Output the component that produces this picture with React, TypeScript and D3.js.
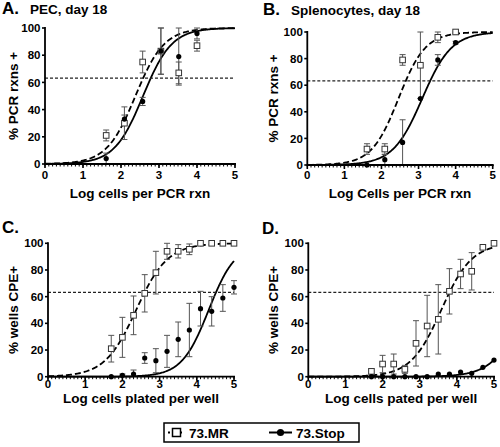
import React from "react";
import * as d3 from "d3";

// ---------- data ----------
const xPCR = [1.61, 2.09, 2.57, 3.05, 3.52, 4.0];
const xWell = [1.7, 2.0, 2.3, 2.6, 2.9, 3.2, 3.5, 3.8, 4.1, 4.4, 4.7, 5.0];

const A_MR = [21, 30, 75, 83, 67, 87];
const A_MR_err = [4, 12, 8, 17, 8, 4];
const A_Stop = [4, 33, 46, 83, 79, 96];
const A_Stop_err = [4, 3, 3, 17, 21, 4];

const B_MR = [12, 12, 79, 75, 96, 100];
const B_MR_err = [4, 4, 4, 25, 4, 1];
const B_Stop = [0, 4, 17, 50, 79, 92];
const B_Stop_err = [0, 4, 17, 0, 4, 1];

const C_MR = [21, 29.5, 46, 62.5, 78, 94, 94, 95.5, 100, 100, 100, 100];
const C_MR_err = [10, 15, 14.5, 14, 16, 6, 5, 4, 0, 0, 0, 0];
const C_Stop = [0, 1, 2, 14, 12, 19, 28, 35, 51, 49, 59, 67];
const C_Stop_err = [0, 1, 3, 4, 9, 12, 13, 20, 13, 11, 10, 5];

const D_MR = [4, 9.5, 9.5, 5.5, 25, 38, 43, 64, 77, 79, 97, 100];
const D_MR_err = [2, 6.5, 7.5, 3, 17, 23, 26, 17, 11, 14, 1, 0];
const D_Stop = [0, 0, 0, 0, 0, 0, 2, 2, 3.5, 2.5, 7, 12.5];
const D_Stop_err = [0, 0, 0, 0, 0, 0, 0, 0, 0, 0, 0, 0];

// fitted sigmoid parameters [logEC50, hill slope]
const A_fit_MR = [2.38, 1.15];
const A_fit_Stop = [2.58, 1.15];
const B_fit_MR = [2.46, 1.2];
const B_fit_Stop = [3.1, 1.1];
const C_fit_MR = [2.37, 1.03];
const C_fit_Stop = [4.32, 1.2];
const D_fit_MR = [3.58, 1.06];
const D_fit_Stop = [5.81, 1.04];

const POISSON_LINE = 63.2;
const xTicks = [0, 1, 2, 3, 4, 5];
const yTicks = [0, 20, 40, 60, 80, 100];
const seriesNames = ["73.MR", "73.Stop"];

const FONT = "'Liberation Sans', Arial, Helvetica, sans-serif";

type Layout = { x0: number; x1: number; yb: number; yt: number };

function Panel(props: {
  lay: Layout;
  letter: string;
  letterPos: [number, number];
  title: string;
  titlePos: [number, number];
  xTitle: string;
  xTitleY: number;
  xLabelOff: number;
  yTitle: string;
  yTitleX: number;
  xs: number[];
  mr: number[];
  mrErr: number[];
  stop: number[];
  stopErr: number[];
  fitMR: number[];
  fitStop: number[];
}) {
  const { lay } = props;
  const x = d3.scaleLinear().domain([0, 5]).range([lay.x0, lay.x1]);
  const y = d3.scaleLinear().domain([0, 100]).range([lay.yb, lay.yt]);
  const sig = (p: number[]) => (v: number) => 100 / (1 + Math.pow(10, (p[0] - v) * p[1]));
  const grid = d3.range(0, 5.0001, 0.02);
  const line = d3
    .line<number>()
    .x((d) => x(d))
    .curve(d3.curveLinear);
  const pathMR = line.y((d) => y(sig(props.fitMR)(d)))(grid) as string;
  const pathStop = line.y((d) => y(sig(props.fitStop)(d)))(grid) as string;
  const minor = d3.range(0, 5.0001, 0.1);
  const ebar = (xv: number, v: number, e: number, key: string) => {
    if (!e) return null;
    const lo = Math.max(0, v - e);
    const hi = Math.min(100, v + e);
    const cx = x(xv);
    return (
      <g key={key} stroke="#555" strokeWidth={1}>
        <line x1={cx} x2={cx} y1={y(lo)} y2={y(hi)} />
        <line x1={cx - 3} x2={cx + 3} y1={y(hi)} y2={y(hi)} />
        {lo > 0 && <line x1={cx - 3} x2={cx + 3} y1={y(lo)} y2={y(lo)} />}
      </g>
    );
  };
  return (
    <g fontFamily={FONT} fontWeight="bold" fill="#000">
      <text x={props.letterPos[0]} y={props.letterPos[1]} fontSize={17}>
        {props.letter}
      </text>
      {props.title && (
        <text x={props.titlePos[0]} y={props.titlePos[1]} fontSize={13.5}>
          {props.title}
        </text>
      )}
      {/* curves */}
      <path d={pathStop} fill="none" stroke="#000" strokeWidth={1.8} />
      <path d={pathMR} fill="none" stroke="#000" strokeWidth={1.8} strokeDasharray="6,3" />
      {/* 63% line */}
      <line
        x1={x(0)}
        x2={x(5)}
        y1={y(POISSON_LINE)}
        y2={y(POISSON_LINE)}
        stroke="#222"
        strokeWidth={1.3}
        strokeDasharray="3,2"
      />
      {/* error bars */}
      {props.xs.map((xv, i) => ebar(xv, props.mr[i], props.mrErr[i], "em" + i))}
      {props.xs.map((xv, i) => ebar(xv, props.stop[i], props.stopErr[i], "es" + i))}
      {/* markers */}
      {props.xs.map((xv, i) => (
        <rect
          key={"m" + i}
          x={x(xv) - 2.8}
          y={y(props.mr[i]) - 2.8}
          width={5.6}
          height={5.6}
          fill="#fff"
          stroke="#333"
          strokeWidth={1}
        />
      ))}
      {props.xs.map((xv, i) => (
        <circle key={"s" + i} cx={x(xv)} cy={y(props.stop[i])} r={2.6} fill="#000" />
      ))}
      {/* axes */}
      <line x1={x(0)} x2={x(5) + 1} y1={y(0)} y2={y(0)} stroke="#000" strokeWidth={1.8} />
      <line x1={x(0)} x2={x(0)} y1={y(0) + 1} y2={y(100) - 1} stroke="#000" strokeWidth={1.8} />
      {minor.map((t, i) => (
        <line key={"mt" + i} x1={x(t)} x2={x(t)} y1={y(0)} y2={y(0) + 2.5} stroke="#000" strokeWidth={1} />
      ))}
      {xTicks.map((t) => (
        <g key={"xt" + t}>
          <line x1={x(t)} x2={x(t)} y1={y(0)} y2={y(0) + 4} stroke="#000" strokeWidth={1.6} />
          <text x={x(t)} y={y(0) + props.xLabelOff} fontSize={11.5} textAnchor="middle">
            {t}
          </text>
        </g>
      ))}
      {yTicks.map((t) => (
        <g key={"yt" + t}>
          <line x1={x(0) - 3} x2={x(0)} y1={y(t)} y2={y(t)} stroke="#000" strokeWidth={1.6} />
          <text x={x(0) - 4.5} y={y(t)} dy="0.36em" fontSize={11.5} textAnchor="end">
            {t}
          </text>
        </g>
      ))}
      <text x={(x(0) + x(5)) / 2} y={props.xTitleY} fontSize={13.5} textAnchor="middle">
        {props.xTitle}
      </text>
      <text
        transform={`translate(${props.yTitleX},${(y(0) + y(100)) / 2}) rotate(-90)`}
        fontSize={13.5}
        textAnchor="middle"
      >
        {props.yTitle}
      </text>
    </g>
  );
}

export default function App() {
  return (
    <svg
      width={500}
      height={447}
      viewBox="0 0 500 447"
      style={{ position: "absolute", left: 0, top: 0, background: "#fff" }}
    >
      <rect width={500} height={447} fill="#fff" />
      <Panel
        lay={{ x0: 45, x1: 235, yb: 164, yt: 28 }}
        letter="A."
        letterPos={[2, 14]}
        title="PEC, day 18"
        titlePos={[30, 14]}
        xTitle="Log cells per PCR rxn"
        xTitleY={197.5}
        xLabelOff={14.5}
        yTitle="% PCR rxns +"
        yTitleX={18}
        xs={xPCR}
        mr={A_MR}
        mrErr={A_MR_err}
        stop={A_Stop}
        stopErr={A_Stop_err}
        fitMR={A_fit_MR}
        fitStop={A_fit_Stop}
      />
      <Panel
        lay={{ x0: 307.3, x1: 492.7, yb: 165, yt: 32 }}
        letter="B."
        letterPos={[263, 15]}
        title="Splenocytes, day 18"
        titlePos={[291, 15]}
        xTitle="Log Cells per PCR rxn"
        xTitleY={197.5}
        xLabelOff={13.5}
        yTitle="% PCR rxns +"
        yTitleX={278}
        xs={xPCR}
        mr={B_MR}
        mrErr={B_MR_err}
        stop={B_Stop}
        stopErr={B_Stop_err}
        fitMR={B_fit_MR}
        fitStop={B_fit_Stop}
      />
      <Panel
        lay={{ x0: 48, x1: 234, yb: 376.7, yt: 243.3 }}
        letter="C."
        letterPos={[2, 233]}
        title=""
        titlePos={[0, 0]}
        xTitle="Log cells plated per well"
        xTitleY={403}
        xLabelOff={11}
        yTitle="% wells CPE+"
        yTitleX={18}
        xs={xWell}
        mr={C_MR}
        mrErr={C_MR_err}
        stop={C_Stop}
        stopErr={C_Stop_err}
        fitMR={C_fit_MR}
        fitStop={C_fit_Stop}
      />
      <Panel
        lay={{ x0: 308.3, x1: 494, yb: 376.7, yt: 243.3 }}
        letter="D."
        letterPos={[262, 234]}
        title=""
        titlePos={[0, 0]}
        xTitle="Log cells pated per well"
        xTitleY={403}
        xLabelOff={11}
        yTitle="% wells CPE+"
        yTitleX={278}
        xs={xWell}
        mr={D_MR}
        mrErr={D_MR_err}
        stop={D_Stop}
        stopErr={D_Stop_err}
        fitMR={D_fit_MR}
        fitStop={D_fit_Stop}
      />
      {/* legend */}
      <g fontFamily={FONT} fontWeight="bold">
        <rect x={164} y={423} width={195} height={19} fill="#fff" stroke="#000" strokeWidth={1.5} />
        <line x1={168} x2={185} y1={432.5} y2={432.5} stroke="#000" strokeWidth={1.8} strokeDasharray="3,3" strokeDashoffset={1} />
        <rect x={172.5} y={428.5} width={8} height={8} fill="#fff" stroke="#000" strokeWidth={1.5} />
        <text x={189} y={437.5} fontSize={13.5}>
          {seriesNames[0]}
        </text>
        <line x1={269} x2={292} y1={432.5} y2={432.5} stroke="#000" strokeWidth={2} />
        <circle cx={280.5} cy={432.5} r={3.6} fill="#000" />
        <text x={296} y={437.5} fontSize={13.5}>
          {seriesNames[1]}
        </text>
      </g>
    </svg>
  );
}
